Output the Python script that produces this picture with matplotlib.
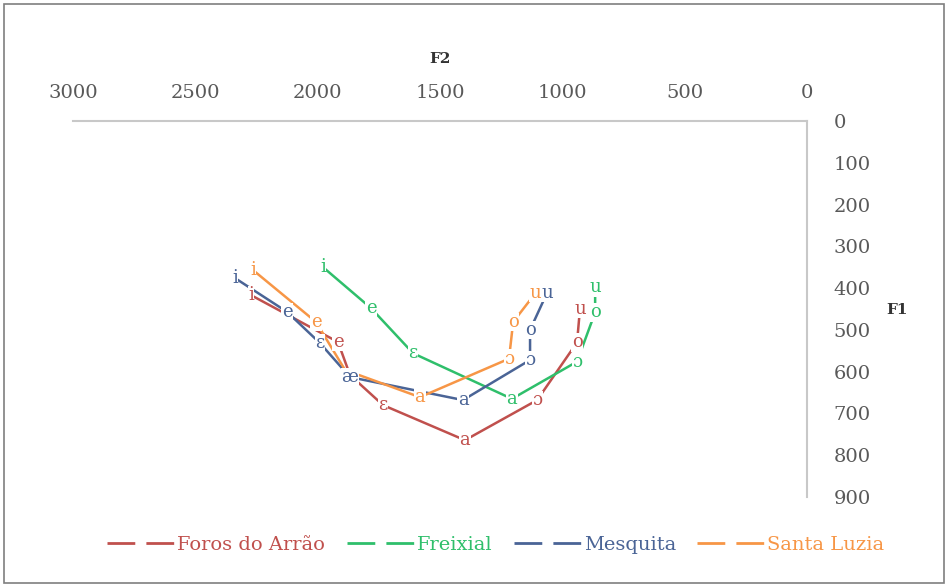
import matplotlib
matplotlib.use("Agg")
import matplotlib.pyplot as plt
from matplotlib.lines import Line2D
from matplotlib.patches import Rectangle

plt.rcParams['font.family'] = ['DejaVu Serif']

# F2 / F1 values (Hz), one list per locality
foros_labels = ['i', 'e', '', 'ɛ', 'a', 'ɔ', 'o', 'u']
foros_f2 = [2272, 1917, 1868, 1733, 1398, 1103, 940, 928]
foros_f1 = [417, 529, 608, 680, 764, 668, 530, 450]

freixial_labels = ['i', 'e', 'ɛ', 'a', 'ɔ', 'o', 'u']
freixial_f2 = [1978, 1782, 1610, 1206, 940, 866, 866]
freixial_f1 = [350, 448, 556, 665, 576, 458, 398]

mesquita_labels = ['i', 'e', 'ɛ', 'æ', 'a', 'ɔ', 'o', 'u']
mesquita_f2 = [2338, 2125, 1990, 1868, 1406, 1132, 1132, 1063]
mesquita_f1 = [376, 457, 532, 613, 668, 572, 500, 412]

luzia_labels = ['i', 'e', '', 'a', 'ɔ', 'o', 'u']
luzia_f2 = [2264, 2007, 1888, 1582, 1218, 1201, 1110]
luzia_f1 = [357, 481, 596, 661, 569, 481, 412]

series = [
    ('Foros do Arrão', foros_f2, foros_f1, foros_labels, '#c0504d'),
    ('Freixial', freixial_f2, freixial_f1, freixial_labels, '#2fbf6b'),
    ('Mesquita', mesquita_f2, mesquita_f1, mesquita_labels, '#4a6496'),
    ('Santa Luzia', luzia_f2, luzia_f1, luzia_labels, '#f79646'),
]

fig = plt.figure(figsize=(9.48, 5.85), dpi=100)
ax = fig.add_axes([0.077, 0.1504, 0.7743, 0.6428])

handles = []
for name, f2, f1, labels, col in series:
    ax.plot(f2, f1, color=col, lw=1.8, zorder=2)
    for x, y, lab in zip(f2, f1, labels):
        if lab:
            ax.text(x, y, lab, color=col, fontsize=13, ha='center', va='center',
                    zorder=3,
                    bbox=dict(boxstyle='square,pad=0.02', fc='white', ec='none'))
    handles.append(Line2D([0], [0], color=col, lw=2, linestyle=(0, (10, 4))))

ax.set_xlim(3000, 0)
ax.set_ylim(900, 0)
ax.set_xticks(range(3000, -1, -500))
ax.set_yticks(range(0, 901, 100))

ax.xaxis.tick_top()
ax.yaxis.tick_right()
for s in ['left', 'bottom']:
    ax.spines[s].set_visible(False)
for s in ['top', 'right']:
    ax.spines[s].set_color('#c8c8c8')
    ax.spines[s].set_linewidth(1.5)
ax.tick_params(axis='x', length=0, pad=14, labelsize=14, labelcolor='#595959')
ax.tick_params(axis='y', length=0, pad=19, labelsize=14, labelcolor='#595959')

ax.text(0.5, 1.165, 'F2', transform=ax.transAxes, ha='center', va='center',
        fontsize=11, fontweight='bold', color='#333333')
ax.text(1.1226, 0.497, 'F1', transform=ax.transAxes, ha='center', va='center',
        fontsize=11, fontweight='bold', color='#333333')

leg = fig.legend(handles, [s[0] for s in series], loc='center',
                 bbox_to_anchor=(0.523, 1 - 545 / 585), ncol=4, frameon=False,
                 fontsize=14, handlelength=3.45, columnspacing=1.1,
                 handletextpad=0.15)
for txt, s in zip(leg.get_texts(), series):
    txt.set_color(s[4])

# outer chart border
fig.patches.append(Rectangle((0.004, 0.004), 0.992, 0.99, transform=fig.transFigure,
                             fill=False, ec='#7f7f7f', lw=1.2))

fig.savefig('out.png', dpi=100)
